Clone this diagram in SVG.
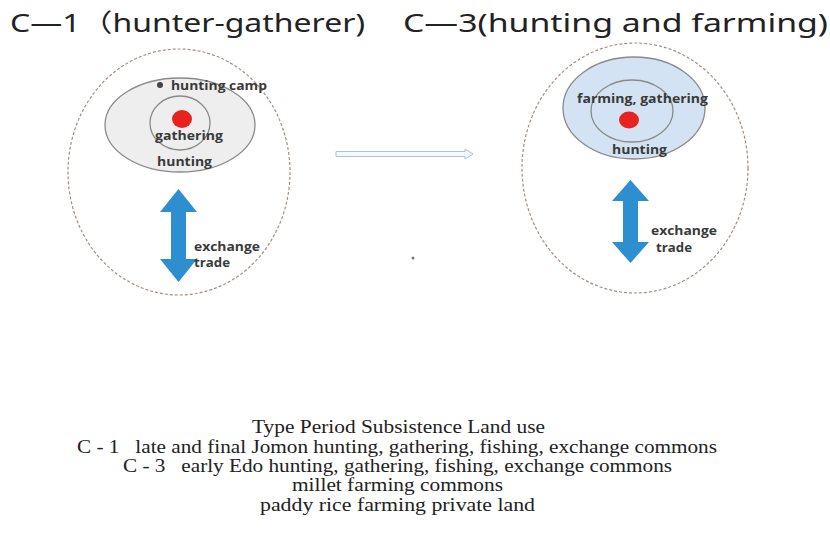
<svg xmlns="http://www.w3.org/2000/svg" width="830" height="539" viewBox="0 0 830 539">
<style>
.title{font-family:"Noto Sans","Noto Sans CJK JP",sans-serif;font-size:25px;fill:#222}
.lbl{font-family:"Open Sans","Noto Sans",sans-serif;font-size:13px;font-weight:bold;fill:#3a3a3a}
.sm{font-size:11.5px}
.body{font-family:"Liberation Serif","Times New Roman",serif;font-size:18px;fill:#222;text-anchor:middle}
.outer{fill:none;stroke:#a88c84;stroke-width:1.2;stroke-dasharray:3 2}
.ring{stroke:#8a8a8a;stroke-width:1.3}
.core{fill:#e8231f}
.darr{fill:#2e8fd0}
</style>
<rect width="830" height="539" fill="#fff"/>
<text class="title" x="10" y="32" textLength="355" lengthAdjust="spacingAndGlyphs">C—1（hunter-gatherer)</text>
<text class="title" x="403" y="32" textLength="425" lengthAdjust="spacingAndGlyphs">C—3(hunting and farming)</text>

<g id="c1">
<ellipse class="outer" cx="179" cy="172" rx="111" ry="123"/>
<ellipse class="ring" cx="180" cy="125" rx="75" ry="47" fill="#eeeeee"/>
<ellipse class="ring" cx="180" cy="123" rx="30" ry="27" fill="#eeeeee"/>
<ellipse class="core" cx="182" cy="119" rx="10" ry="9"/>
<circle cx="160" cy="85" r="3" fill="#444"/>
<text class="lbl" x="171" y="90" textLength="96" lengthAdjust="spacingAndGlyphs">hunting camp</text>
<text class="lbl" x="155" y="140" textLength="68" lengthAdjust="spacingAndGlyphs">gathering</text>
<text class="lbl" x="157" y="166" textLength="55" lengthAdjust="spacingAndGlyphs">hunting</text>
<path class="darr" d="M178.5 189 L197 212 L186 212 L186 259 L197 259 L178.5 282 L160 259 L171 259 L171 212 L160 212 Z"/>
<text class="lbl sm" x="194" y="251" textLength="66" lengthAdjust="spacingAndGlyphs">exchange</text>
<text class="lbl sm" x="194" y="267" textLength="36" lengthAdjust="spacingAndGlyphs">trade</text>
</g>

<g id="transition">
<path d="M336 151.5 L465 151.5 L465 149 L473 154 L465 159 L465 156.5 L336 156.5 Z" fill="#f4f8fc" stroke="#a9c3da" stroke-width="1"/>
<circle cx="413" cy="258" r="1.5" fill="#777"/>
</g>

<g id="c3">
<ellipse class="outer" cx="635" cy="168" rx="113" ry="125"/>
<ellipse class="ring" cx="634" cy="108" rx="71" ry="51" fill="#d3e3f3"/>
<ellipse class="ring" cx="632" cy="111" rx="41" ry="31" fill="#d3e3f3"/>
<ellipse class="core" cx="629" cy="120" rx="10" ry="8.5"/>
<text class="lbl" x="577" y="103" textLength="131" lengthAdjust="spacingAndGlyphs">farming, gathering</text>
<text class="lbl" x="612" y="154" textLength="55" lengthAdjust="spacingAndGlyphs">hunting</text>
<path class="darr" d="M630.5 180 L649 201 L638 201 L638 242 L649 242 L630.5 263 L612 242 L623 242 L623 201 L612 201 Z"/>
<text class="lbl sm" x="651" y="235" textLength="66" lengthAdjust="spacingAndGlyphs">exchange</text>
<text class="lbl sm" x="656" y="252" textLength="36" lengthAdjust="spacingAndGlyphs">trade</text>
</g>

<g id="caption">
<text class="body" x="398.5" y="433" textLength="293" lengthAdjust="spacingAndGlyphs">Type Period Subsistence Land use</text>
<text class="body" x="397" y="453" textLength="640" lengthAdjust="spacingAndGlyphs" xml:space="preserve">C - 1   late and final Jomon hunting, gathering, fishing, exchange commons</text>
<text class="body" x="397.5" y="472" textLength="549" lengthAdjust="spacingAndGlyphs" xml:space="preserve">C - 3   early Edo hunting, gathering, fishing, exchange commons</text>
<text class="body" x="397.5" y="491" textLength="211" lengthAdjust="spacingAndGlyphs">millet farming commons</text>
<text class="body" x="397.5" y="511" textLength="275" lengthAdjust="spacingAndGlyphs">paddy rice farming private land</text>
</g>
</svg>
